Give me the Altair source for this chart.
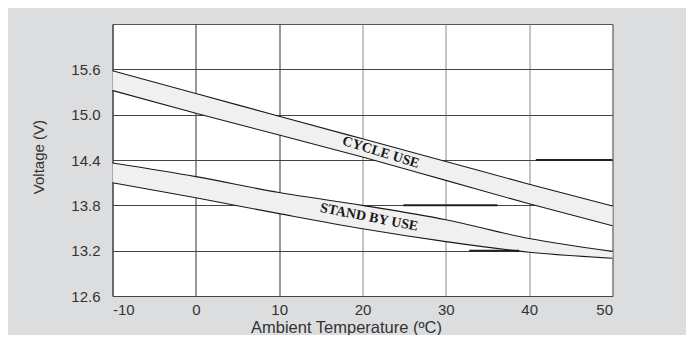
import altair as alt
import pandas as pd

# ---- data ----
temps = [-10, 0, 10, 20, 30, 40, 50]
cycle_upper = [15.58, 15.28, 14.98, 14.68, 14.38, 14.08, 13.79]
cycle_lower = [15.32, 15.02, 14.73, 14.44, 14.13, 13.82, 13.53]
standby_upper = [14.36, 14.18, 13.97, 13.80, 13.61, 13.36, 13.19]
standby_lower = [14.10, 13.90, 13.69, 13.49, 13.32, 13.18, 13.10]

x_ticks = [-10, 0, 10, 20, 30, 40, 50]
y_ticks = [12.6, 13.2, 13.8, 14.4, 15.0, 15.6]

label_text = ["CYCLE USE", "STAND BY USE"]
label_x = [22.2, 20.8]
label_y = [14.50, 13.64]
label_angle = [17, 11]

seg_y = [14.4, 13.8, 13.2]
seg_x1 = [40.8, 24.9, 32.8]
seg_x2 = [50, 36.2, 38.8]

df = pd.DataFrame({
    "t": temps,
    "cu": cycle_upper,
    "cl": cycle_lower,
    "su": standby_upper,
    "sl": standby_lower,
})
labels = pd.DataFrame({"txt": label_text, "x": label_x, "y": label_y, "a": label_angle})
segs = pd.DataFrame({"y": seg_y, "x1": seg_x1, "x2": seg_x2})

xscale = alt.Scale(domain=[-10, 50], nice=False, zero=False)
yscale = alt.Scale(domain=[12.6, 16.2], nice=False, zero=False)

x_axis = alt.Axis(
    values=x_ticks, grid=True, ticks=False, domain=False,
    gridColor=alt.condition("datum.value <= 10", alt.value("#333333"), alt.value("#8a8a8a")),
    gridWidth=1,
    labelExpr="datum.value + ''",
    labelFont="Liberation Sans", labelFontSize=15, labelColor="#333333", labelPadding=6,
    title="Ambient Temperature (ºC)", titleFont="Liberation Sans", titleFontSize=16.5,
    titleFontWeight="normal", titleColor="#333333",
    titleX=233.5, titleY=36.5, titleAlign="center", titleBaseline="alphabetic",
)
y_axis = alt.Axis(
    values=y_ticks, format=".1f", grid=True, ticks=False, domain=False,
    gridColor="#444444", gridWidth=1,
    labelFont="Liberation Sans", labelFontSize=15, labelColor="#333333", labelPadding=12.5,
    title="Voltage (V)", titleFont="Liberation Sans", titleFontSize=15,
    titleFontWeight="normal", titleColor="#333333",
    titleX=-74.5, titleY=132.6, titleAngle=-90, titleAlign="center", titleBaseline="middle",
)

base = alt.Chart(df)
X = alt.X("t:Q", scale=xscale, axis=x_axis)

cycle_band = base.mark_area(color="#f0f0f0", interpolate="monotone").encode(
    x=X, y=alt.Y("cu:Q", scale=yscale, axis=y_axis), y2="cl:Q")
standby_band = base.mark_area(color="#f0f0f0", interpolate="monotone").encode(
    x="t:Q", y="su:Q", y2="sl:Q")

def edge(col):
    return base.mark_line(color="#1a1a1a", strokeWidth=1.1, interpolate="monotone").encode(
        x="t:Q", y=f"{col}:Q")

seg_layer = alt.Chart(segs).mark_rule(color="#222222", strokeWidth=2).encode(
    x="x1:Q", x2="x2:Q", y="y:Q")

text_layer = alt.Chart(labels).mark_text(
    font="Liberation Serif", fontWeight="bold", fontSize=14, color="#1a1a1a",
    align="center", baseline="middle",
).encode(x="x:Q", y="y:Q", text="txt:N", angle=alt.Angle("a:Q", scale=None))

chart = alt.layer(
    cycle_band, standby_band, seg_layer,
    edge("cu"), edge("cl"), edge("su"), edge("sl"),
    text_layer,
).properties(
    width=500, height=272,
    autosize=alt.AutoSizeParams(type="none"),
    padding={"left": 104.5, "top": 16, "right": 73.5, "bottom": 39},
    background="#dcdddf",
).configure_view(
    fill="white", stroke="#555555", strokeWidth=1,
)

chart.save("out.html", embed_options={"renderer": "svg", "actions": False})
